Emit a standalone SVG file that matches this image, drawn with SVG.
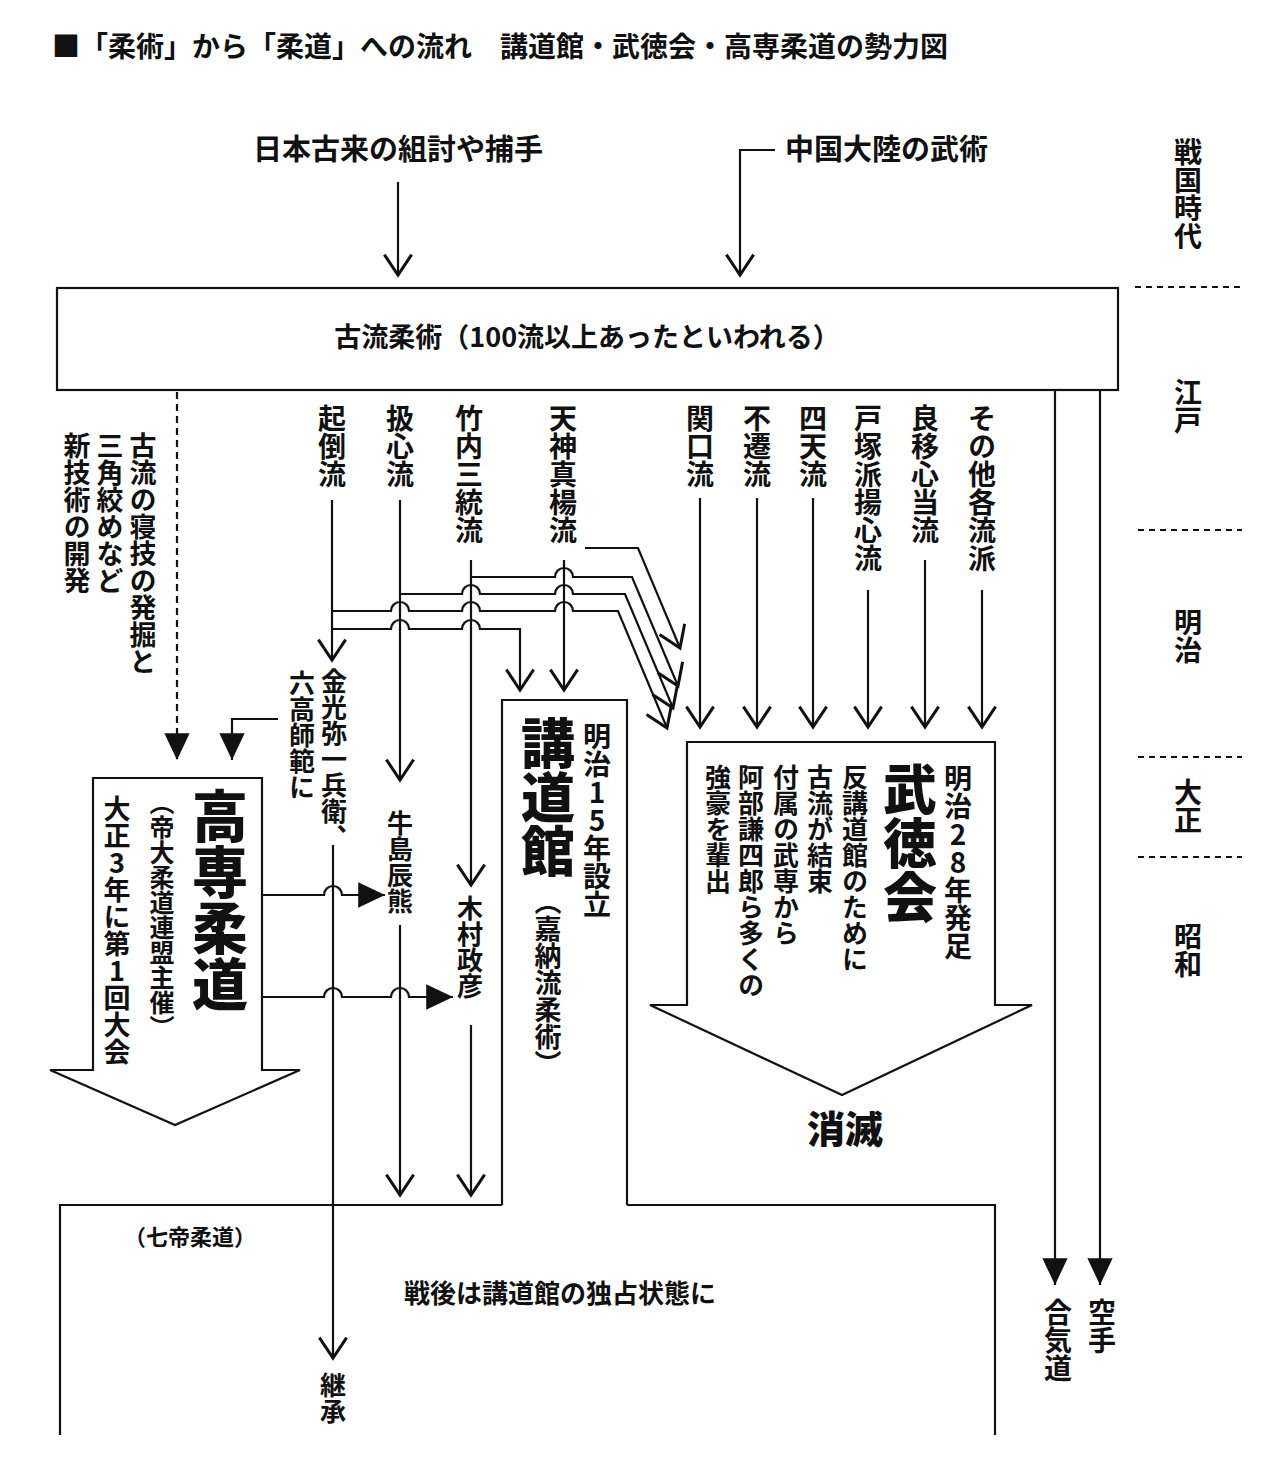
<svg xmlns="http://www.w3.org/2000/svg" width="1280" height="1470" viewBox="0 0 1280 1470">
<style>
text{font-family:"Noto Sans CJK JP","Noto Sans",sans-serif;font-weight:bold;fill:#111}
.v{writing-mode:vertical-rl;text-orientation:upright}
.r{font-size:28px}
.ln{fill:none;stroke:#111;stroke-width:2.2}
.op{marker-end:url(#open)}
.fl{marker-end:url(#fill)}
</style>
<defs>
<marker id="open" markerUnits="userSpaceOnUse" orient="auto" markerWidth="30" markerHeight="30" refX="0" refY="0" viewBox="-16 -11 18 22" overflow="visible"><path d="M-15,-10 L0,0 L-15,10" fill="none" stroke="#111" stroke-width="2.2"/></marker>
<marker id="fill" markerUnits="userSpaceOnUse" orient="auto" markerWidth="30" markerHeight="30" refX="0" refY="0" viewBox="-18 -9 19 18" overflow="visible"><path d="M-17,-8 L0,0 L-17,8Z" fill="#111"/></marker>
</defs>
<rect width="1280" height="1470" fill="#fff"/>
<text x="52" y="57" font-size="28">■「柔術」から「柔道」への流れ　講道館・武徳会・高専柔道の勢力図</text>

<g id="era">
<text class="v" x="1188" y="138" font-size="28">戦国時代</text>
<text class="v" x="1188" y="378" font-size="28">江戸</text>
<text class="v" x="1188" y="608" font-size="28">明治</text>
<text class="v" x="1188" y="778" font-size="28">大正</text>
<text class="v" x="1188" y="922" font-size="28">昭和</text>
<g stroke="#111" stroke-width="2" stroke-dasharray="6 5"><path d="M1135 287H1240M1138 530H1242M1138 757H1242M1138 857H1242"/></g>
</g>

<g id="sources">
<text x="398" y="160" font-size="29" text-anchor="middle">日本古来の組討や捕手</text>
<text x="785" y="160" font-size="29">中国大陸の武術</text>
</g>

<g id="koryu">
<rect x="57" y="288" width="1061" height="102" fill="#fff" stroke="#111" stroke-width="2.2"/>
<text x="587" y="347" font-size="27" text-anchor="middle">古流柔術（100流以上あったといわれる）</text>
</g>

<g id="ryu" class="r">
<text class="v r" x="332" y="404">起倒流</text>
<text class="v r" x="400" y="404">扱心流</text>
<text class="v r" x="469" y="404">竹内三統流</text>
<text class="v r" x="563" y="404">天神真楊流</text>
<text class="v r" x="700" y="404">関口流</text>
<text class="v r" x="757" y="404">不遷流</text>
<text class="v r" x="813" y="404">四天流</text>
<text class="v r" x="868" y="404">戸塚派揚心流</text>
<text class="v r" x="925" y="404">良移心当流</text>
<text class="v r" x="982" y="404">その他各流派</text>
</g>

<g id="newtech">
<text class="v" x="143" y="432" font-size="27">古流の寝技の発掘と</text>
<text class="v" x="110" y="432" font-size="27">三角絞めなど</text>
<text class="v" x="77" y="432" font-size="27">新技術の開発</text>
</g>

<g id="kodokan">
<path class="ln" d="M502 1205V700H627V1205"/>
<text class="v" x="548" y="716" font-size="54" style="font-weight:900">講道館</text>
<text class="v" x="597" y="722" font-size="28">明治15年設立</text>
<text class="v" x="548" y="888" font-size="27">（嘉納流柔術）</text>
</g>

<g id="butokukai">
<path d="M687 742H995V1005H1032L842 1095L650 1005H687Z" fill="#fff" stroke="#111" stroke-width="2.2"/>
<text class="v" x="958" y="764" font-size="28">明治28年発足</text>
<text class="v" x="910" y="762" font-size="54" style="font-weight:900">武徳会</text>
<text class="v" x="855" y="764" font-size="26">反講道館のために</text>
<text class="v" x="820" y="764" font-size="26">古流が結束</text>
<text class="v" x="786" y="764" font-size="26">付属の武専から</text>
<text class="v" x="751" y="764" font-size="26">阿部謙四郎ら多くの</text>
<text class="v" x="718" y="764" font-size="26">強豪を輩出</text>
<text x="845" y="1143" font-size="38" text-anchor="middle" style="font-weight:900">消滅</text>
</g>

<g id="kosen">
<path d="M93 778H262V1070H300L175 1125L50 1070H93Z" fill="#fff" stroke="#111" stroke-width="2.2"/>
<text class="v" x="220" y="788" font-size="56" style="font-weight:900">高専柔道</text>
<text class="v" x="162" y="790" font-size="25">（帝大柔道連盟主催）</text>
<text class="v" x="117" y="795" font-size="27">大正3年に第1回大会</text>
</g>

<g id="people">
<text class="v" x="302" y="670" font-size="26">六高師範に</text>
<text class="v" x="334" y="668" font-size="26">金光弥一兵衛、</text>
<text class="v" x="400" y="810" font-size="26">牛島辰熊</text>
<text class="v" x="470" y="895" font-size="26">木村政彦</text>
<text class="v" x="333" y="1372" font-size="26">継承</text>
</g>

<g id="postwar">
<path class="ln" d="M60 1435V1205H502M627 1205H995V1435"/>
<text x="190" y="1245" font-size="22" text-anchor="middle">（七帝柔道）</text>
<text x="560" y="1303" font-size="26" text-anchor="middle">戦後は講道館の独占状態に</text>
</g>

<g id="others">
<text class="v" x="1058" y="1298" font-size="28">合気道</text>
<text class="v" x="1102" y="1298" font-size="28">空手</text>
</g>

<g id="connectors">
<path class="ln op" d="M398 182V275"/>
<path class="ln op" d="M775 150H740V275"/>
<path class="ln fl" d="M177 392V760" stroke-dasharray="7 5"/>
<path class="ln fl" d="M278 719H232V760"/>
<path class="ln fl" d="M1055 390V1285"/>
<path class="ln fl" d="M1100 390V1285"/>
<path class="ln op" d="M332 500V660"/>
<path class="ln op" d="M400 500V780"/>
<path class="ln op" d="M471 560V885"/>
<path class="ln op" d="M564 560V690"/>
<path class="ln op" d="M585 548H638L680 648"/>
<path class="ln op" d="M471 577H555a9 9 0 0 1 18 0H632L678 686"/>
<path class="ln op" d="M400 594H462a9 9 0 0 1 18 0H555a9 9 0 0 1 18 0H625L673 708"/>
<path class="ln op" d="M332 611H391a9 9 0 0 1 18 0H462a9 9 0 0 1 18 0H555a9 9 0 0 1 18 0H618L667 728"/>
<path class="ln op" d="M332 629H391a9 9 0 0 1 18 0H462a9 9 0 0 1 18 0H520V690"/>
<path class="ln op" d="M700 498V727"/>
<path class="ln op" d="M757 498V727"/>
<path class="ln op" d="M813 498V727"/>
<path class="ln op" d="M868 590V727"/>
<path class="ln op" d="M925 560V727"/>
<path class="ln op" d="M982 590V727"/>
<path class="ln op" d="M333 845V1358"/>
<path class="ln op" d="M400 925V1195"/>
<path class="ln op" d="M471 1025V1195"/>
<path class="ln fl" d="M262 895H324a9 9 0 0 1 18 0H385"/>
<path class="ln fl" d="M262 997H324a9 9 0 0 1 18 0H391a9 9 0 0 1 18 0H453"/>
</g>
</svg>
